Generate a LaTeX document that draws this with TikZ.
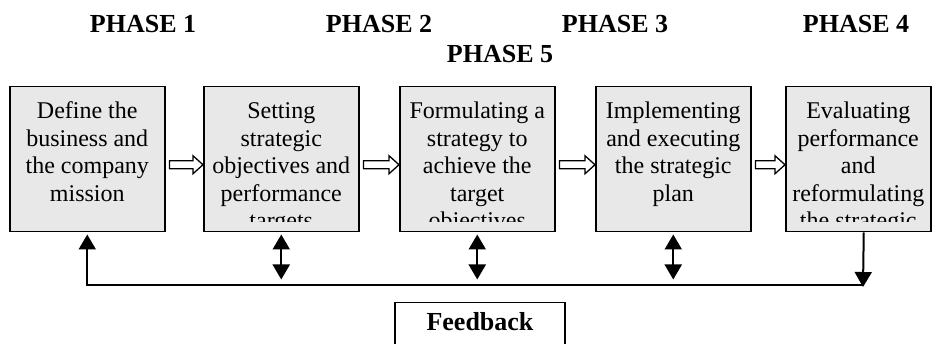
\documentclass[tikz,border=0pt]{standalone}
\usepackage{fontspec}
\setmainfont{Liberation Serif}
\usetikzlibrary{arrows.meta,calc}
\definecolor{boxgray}{RGB}{232,232,232}
\begin{document}
\begin{tikzpicture}[x=1pt,y=-1pt,
  phasebox/.style={draw=black, line width=1.5pt, fill=boxgray, minimum width=155pt,
    minimum height=145pt, anchor=north west, inner sep=0pt},
  boxtext/.style={font=\fontsize{24}{27.5}\selectfont, align=center, anchor=base, inner sep=0pt},
  phaselabel/.style={font=\bfseries\fontsize{26}{30}\selectfont, anchor=base, inner sep=0pt},
  hollow/.style={draw=black, fill=white, line width=1.3pt, line join=miter},
  fbline/.style={draw=black, line width=2pt},
  tip/.tip={Triangle[width=17pt,length=15pt]}
]
\useasboundingbox (0,0) rectangle (932,344);
\clip (0,0) rectangle (932,344);

% phase labels
\node[phaselabel] (p1) at (143,33) {PHASE 1};
\node[phaselabel] (p2) at (379,33) {PHASE 2};
\node[phaselabel] (p3) at (615,33) {PHASE 3};
\node[phaselabel] (p4) at (856,33) {PHASE 4};
\node[phaselabel] (p5) at (500,63) {PHASE 5};

% boxes
\node[phasebox] (b1) at (9,86) {};
\node[phasebox] (b2) at (203,86) {};
\node[phasebox] (b3) at (399,86) {};
\node[phasebox] (b4) at (595,86) {};
\node[phasebox, minimum width=145pt] (b5) at (785,86) {};

% box texts (clipped); base anchor = baseline of the last line
\begin{scope}
\clip (b1.north west) rectangle ($(b1.south east)+(0,-11)$);
\node[boxtext] (t1) at ($(b1.north)+(0,115.5)$) {Define the\\business and\\the company\\mission};
\end{scope}
\begin{scope}
\clip (b2.north west) rectangle ($(b2.south east)+(0,-11)$);
\node[boxtext] (t2) at ($(b2.north)+(0,143)$) {Setting\\strategic\\objectives and\\performance\\targets};
\end{scope}
\begin{scope}
\clip (b3.north west) rectangle ($(b3.south east)+(0,-11)$);
\node[boxtext] (t3) at ($(b3.north)+(0,143)$) {Formulating a\\strategy to\\achieve the\\target\\objectives};
\end{scope}
\begin{scope}
\clip (b4.north west) rectangle ($(b4.south east)+(0,-11)$);
\node[boxtext] (t4) at ($(b4.north)+(0,115.5)$) {Implementing\\and executing\\the strategic\\plan};
\end{scope}
\begin{scope}
\clip (b5.north west) rectangle ($(b5.south east)+(0,-11)$);
\node[boxtext] (t5) at ($(b5.north)+(0,143)$) {Evaluating\\performance\\and\\reformulating\\the strategic};
\end{scope}

% hollow arrows between boxes
\foreach \ua/\ub in {b1/b2,b2/b3,b3/b4,b4/b5}{
  \draw[hollow] let \p1=(\ua.east), \p2=(\ub.west) in
    (\x1+4pt,\y1-1.5pt) -- (\x2-10pt,\y1-1.5pt) -- (\x2-10pt,\y1+3.5pt) --
    (\x2,\y1-5.5pt) -- (\x2-10pt,\y1-14.5pt) -- (\x2-10pt,\y1-9.5pt) --
    (\x1+4pt,\y1-9.5pt) -- cycle;
}

% feedback loop
\coordinate (lineY) at (0,285);
\coordinate (fbL) at (b1.south |- lineY);
\coordinate (fbR) at (863,285);
\draw[fbline,-{tip}] ($(b5.south)+(5.5,0)$) -- ($(fbR)+(0,2)$);
\draw[fbline,-{tip}] (fbR) -- (fbL) -- ($(b1.south)+(0,2)$);
\draw[fbline,{tip}-{tip}] ($(b2.south)+(0,2)$) -- ++(0,45);
\draw[fbline,{tip}-{tip}] ($(b3.south)+(0,2)$) -- ++(0,45);
\draw[fbline,{tip}-{tip}] ($(b4.south)+(0,2)$) -- ++(0,45);

% feedback box
\node[draw=black, line width=1.5pt, minimum width=170pt, anchor=north, inner ysep=0pt,
  text height=28pt, text depth=40pt, font=\bfseries\fontsize{26}{30}\selectfont]
  (fb) at (480,302) {Feedback};
\end{tikzpicture}
\end{document}
